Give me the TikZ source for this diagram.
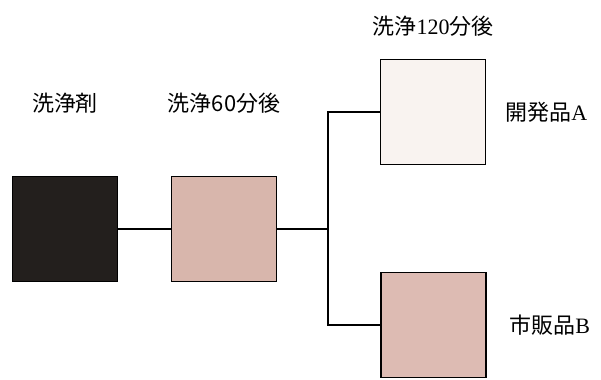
\documentclass[tikz,border=0pt]{standalone}
\usepackage{fontspec}
\setmainfont{Liberation Serif}
\newfontfamily\jp{Noto Sans CJK JP}
\usetikzlibrary{positioning}

\begin{document}
\begin{tikzpicture}[node distance=1cm,
    swatch/.style={draw, rectangle, line width=0.7pt, minimum width=2.1cm, minimum height=2.1cm, inner sep=0pt},
    tag/.style={inner sep=0pt, font=\fontsize{12.5pt}{15pt}\selectfont}]
    \useasboundingbox (0,0) rectangle (12.02,-7.58);
    \node (agent) [swatch, fill={rgb,255:red,35;green,31;blue,29}] at (1.30,-4.58) {};
    \node (w60) [swatch, fill={rgb,255:red,216;green,182;blue,172}] at (4.48,-4.58) {};
    \node (devA) [swatch, fill={rgb,255:red,249;green,243;blue,240}] at (8.66,-2.24) {};
    \node (mktB) [swatch, fill={rgb,255:red,221;green,187;blue,179}] at (8.67,-6.50) {};
    \coordinate (split) at (6.56,-4.58);

    \node (agentlbl) [tag, above=1.25cm of agent] {\jp 洗浄剤};
    \node (w60lbl) [tag, above=1.25cm of w60] {\jp 洗浄60分後};
    \node (w120lbl) [tag, above=0.45cm of devA] {{\jp 洗浄}120{\jp 分後}};
    \node (devAlbl) [tag, right=0.38cm of devA] {{\jp 開発品}A};
    \node (mktBlbl) [tag, right=0.45cm of mktB] {{\jp 市販品}B};

    \draw [line width=0.6pt] (agent) -- (w60);
    \draw [line width=0.6pt] (w60) -- (split);
    \draw [line width=0.6pt] (devA.west) -| (split) |- (mktB.west);
\end{tikzpicture}
\end{document}
